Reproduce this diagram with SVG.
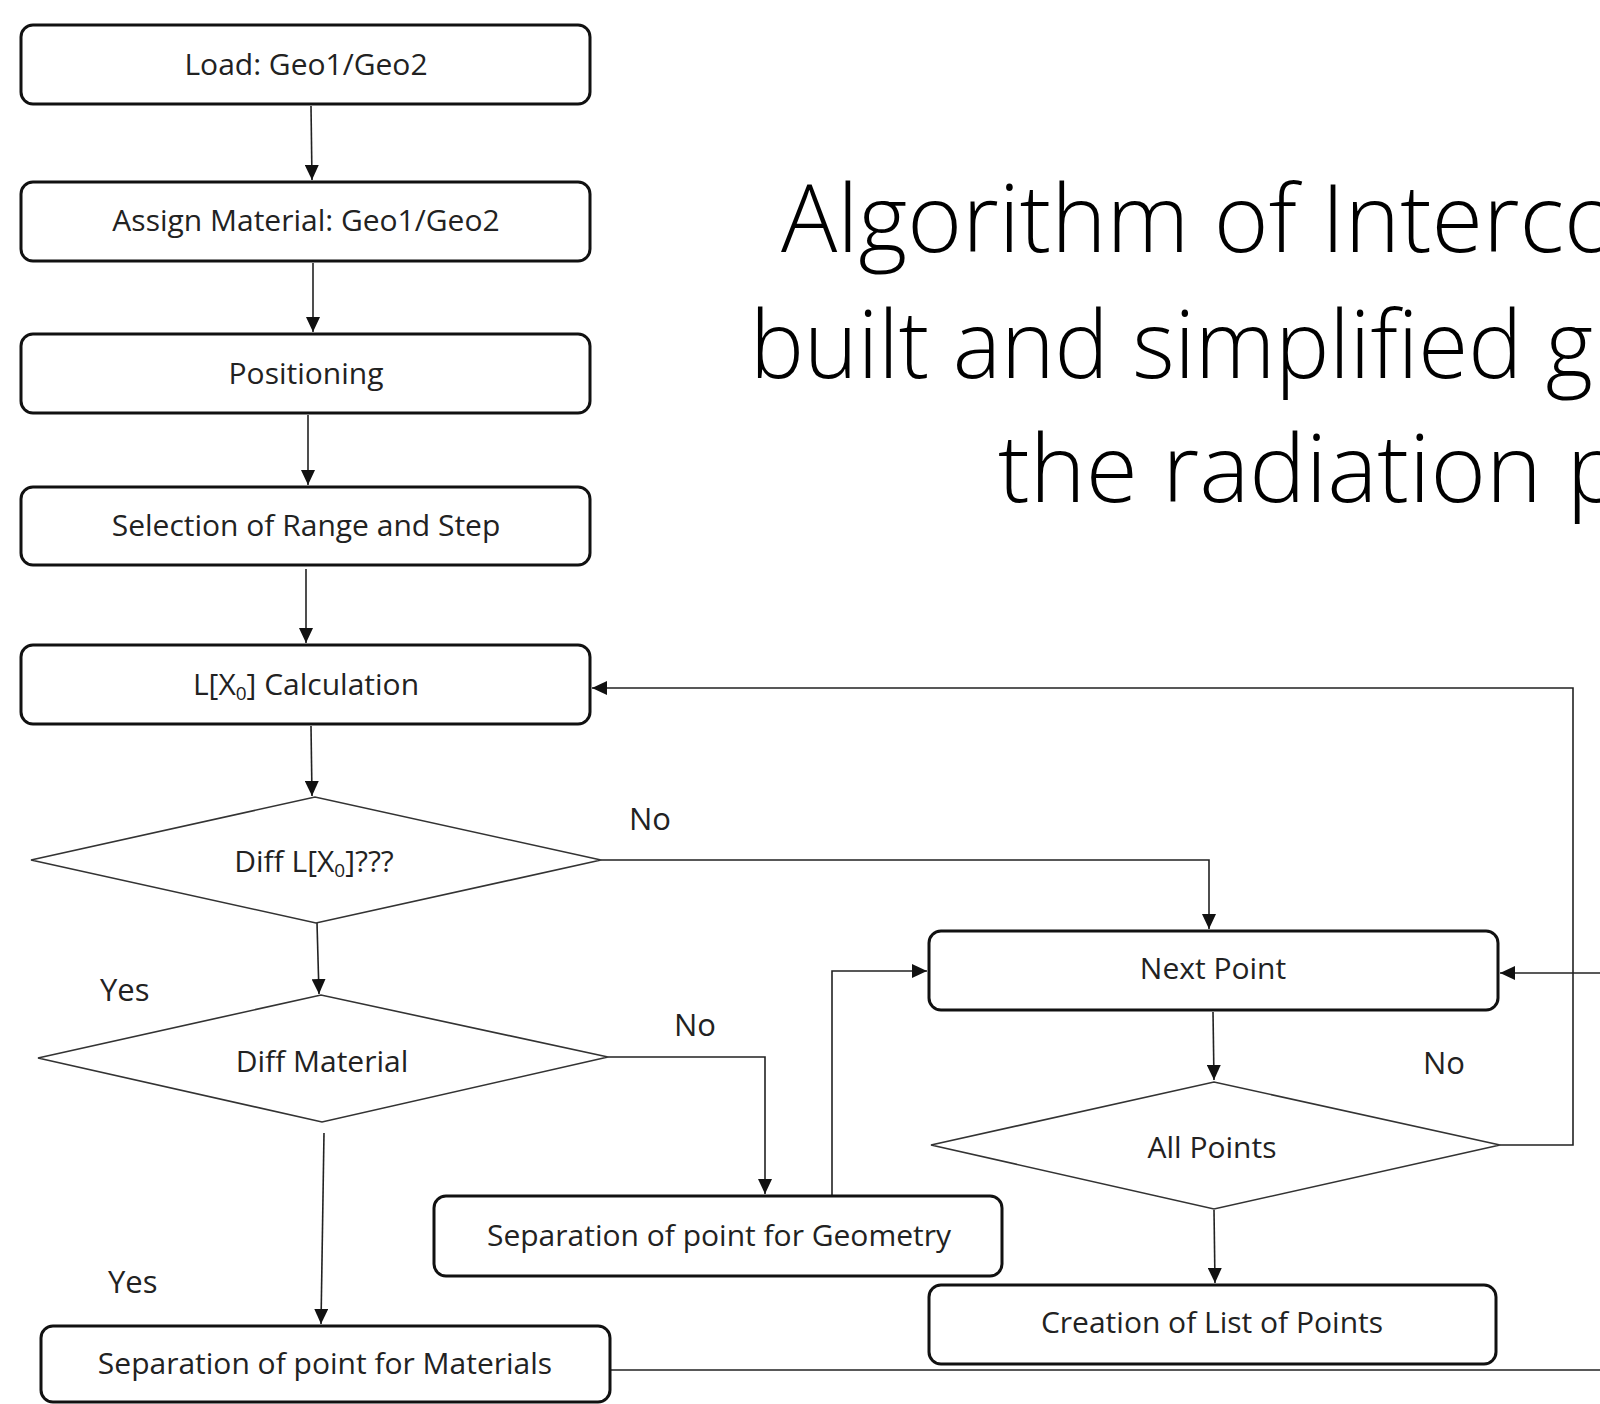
<svg xmlns="http://www.w3.org/2000/svg" width="1600" height="1404" viewBox="0 0 1600 1404">
<defs>
<marker id="arr" markerUnits="userSpaceOnUse" markerWidth="16" markerHeight="14" refX="15" refY="7" orient="auto">
<path d="M0,0 L15,7 L0,14 Z" fill="#111"/>
</marker>
<style>
.box{fill:#fff;stroke:#111;stroke-width:3}
.dia{fill:#fff;stroke:#333;stroke-width:1.6}
.lbl{font-family:"Open Sans","Noto Sans",sans-serif;font-size:30px;fill:#222;text-anchor:middle}
.ed{font-family:"Open Sans","Noto Sans",sans-serif;font-size:31px;fill:#222}
.ttl{font-family:"Open Sans","Noto Sans",sans-serif;font-weight:300;font-size:94px;fill:#000}
.cn{fill:none;stroke:#222;stroke-width:1.6}
</style>
</defs>
<rect x="0" y="0" width="1600" height="1404" fill="#fff"/>

<g id="title">
<text class="ttl" x="781" y="252" textLength="838" lengthAdjust="spacingAndGlyphs">Algorithm of Interco</text>
<text class="ttl" x="750" y="378" textLength="843" lengthAdjust="spacingAndGlyphs">built and simplified g</text>
<text class="ttl" x="998" y="502" textLength="625" lengthAdjust="spacingAndGlyphs">the radiation p</text>
</g>

<g id="connectors">
<path class="cn" d="M311,106 L312,180" marker-end="url(#arr)"/>
<path class="cn" d="M313,263 L313,332" marker-end="url(#arr)"/>
<path class="cn" d="M308,415 L308,485" marker-end="url(#arr)"/>
<path class="cn" d="M306,569 L306,643" marker-end="url(#arr)"/>
<path class="cn" d="M311,726 L312,796" marker-end="url(#arr)"/>
<path class="cn" d="M317,923 L319,994" marker-end="url(#arr)"/>
<path class="cn" d="M324,1133 L321,1324" marker-end="url(#arr)"/>
<path class="cn" d="M601,860 L1209,860 L1209,929" marker-end="url(#arr)"/>
<path class="cn" d="M608,1057 L765,1057 L765,1194" marker-end="url(#arr)"/>
<path class="cn" d="M832,1196 L832,971 L927,971" marker-end="url(#arr)"/>
<path class="cn" d="M1213,1012 L1214,1080" marker-end="url(#arr)"/>
<path class="cn" d="M1214,1210 L1215,1283" marker-end="url(#arr)"/>
<path class="cn" d="M1500,1145 L1573,1145 L1573,688 L592,688" marker-end="url(#arr)"/>
<path class="cn" d="M1600,973 L1500,973" marker-end="url(#arr)"/>
<path class="cn" d="M610,1370 L1600,1370"/>
</g>

<g id="edge-labels">
<text class="ed" x="629" y="830">No</text>
<text class="ed" x="100" y="1001">Yes</text>
<text class="ed" x="674" y="1036">No</text>
<text class="ed" x="108" y="1293">Yes</text>
<text class="ed" x="1423" y="1074">No</text>
</g>

<g id="n-load">
<rect class="box" x="21" y="25" width="569" height="79" rx="12"/>
<text class="lbl" x="306" y="75">Load: Geo1/Geo2</text>
</g>
<g id="n-assign">
<rect class="box" x="21" y="182" width="569" height="79" rx="12"/>
<text class="lbl" x="306" y="231">Assign Material: Geo1/Geo2</text>
</g>
<g id="n-position">
<rect class="box" x="21" y="334" width="569" height="79" rx="12"/>
<text class="lbl" x="306" y="384">Positioning</text>
</g>
<g id="n-selection">
<rect class="box" x="21" y="487" width="569" height="78" rx="12"/>
<text class="lbl" x="306" y="536">Selection of Range and Step</text>
</g>
<g id="n-lcalc">
<rect class="box" x="21" y="645" width="569" height="79" rx="12"/>
<text class="lbl" x="306" y="695">L[X<tspan font-size="19" dy="5">0</tspan><tspan dy="-5">] Calculation</tspan></text>
</g>
<g id="n-difflx">
<polygon class="dia" points="31,860 315,797 601,860 316,923"/>
<text class="lbl" x="314" y="872">Diff L[X<tspan font-size="19" dy="5">0</tspan><tspan dy="-5">]???</tspan></text>
</g>
<g id="n-diffmat">
<polygon class="dia" points="38,1058 321,995 608,1057 322,1122"/>
<text class="lbl" x="322" y="1072">Diff Material</text>
</g>
<g id="n-sepgeo">
<rect class="box" x="434" y="1196" width="568" height="80" rx="12"/>
<text class="lbl" x="719" y="1246">Separation of point for Geometry</text>
</g>
<g id="n-sepmat">
<rect class="box" x="41" y="1326" width="569" height="76" rx="12"/>
<text class="lbl" x="325" y="1374">Separation of point for Materials</text>
</g>
<g id="n-next">
<rect class="box" x="929" y="931" width="569" height="79" rx="12"/>
<text class="lbl" x="1213" y="979">Next Point</text>
</g>
<g id="n-allpoints">
<polygon class="dia" points="931,1145 1214,1082 1500,1145 1214,1209"/>
<text class="lbl" x="1212" y="1158">All Points</text>
</g>
<g id="n-creation">
<rect class="box" x="929" y="1285" width="567" height="79" rx="12"/>
<text class="lbl" x="1212" y="1333">Creation of List of Points</text>
</g>
</svg>
